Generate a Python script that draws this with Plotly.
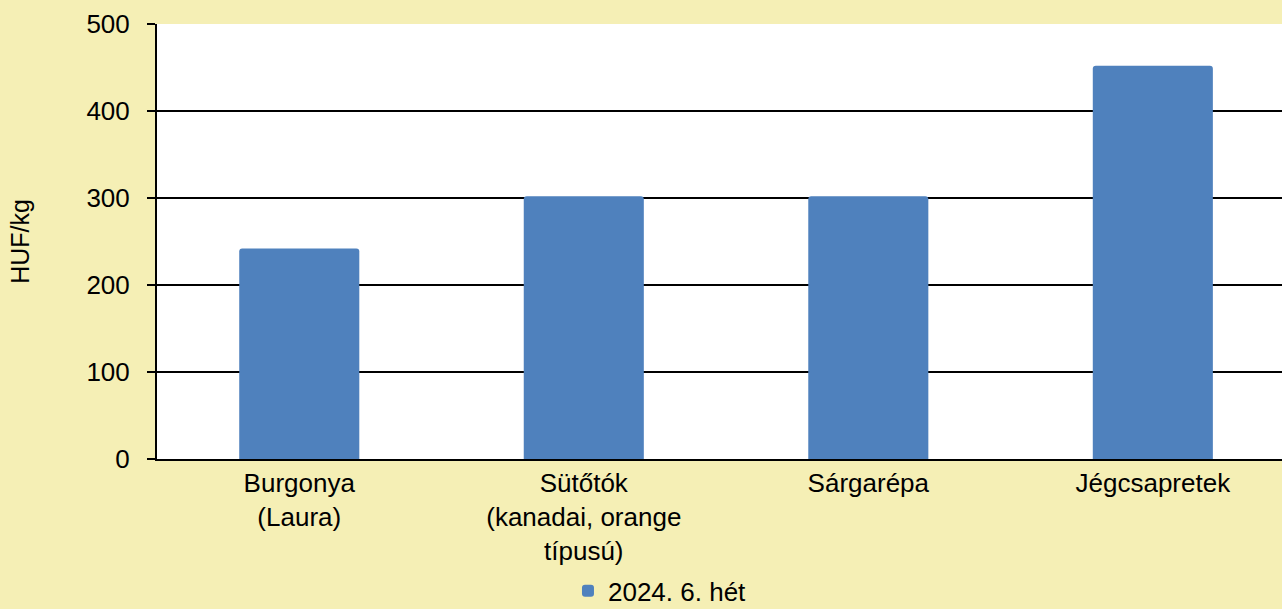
import plotly.graph_objects as go

categories = ["Burgonya<br>(Laura)", "Sütőtók<br>(kanadai, orange<br>típusú)", "Sárgarépa", "Jégcsapretek"]
values = [242, 302, 302, 452]
series_name = "2024. 6. hét"
y_ticks = [0, 100, 200, 300, 400, 500]

BG = "#F5EFB5"
BLUE = "#4F81BD"
FONT = "Liberation Sans, Arial, sans-serif"

fig = go.Figure()
fig.add_trace(go.Bar(
    x=categories, y=values, name=series_name,
    marker=dict(color=BLUE, line=dict(width=0), cornerradius=3),
    showlegend=True,
))

fig.update_layout(
    width=1282, height=609,
    paper_bgcolor=BG, plot_bgcolor="white",
    margin=dict(l=157, r=0, t=24, b=150, autoexpand=False),
    font=dict(family=FONT, size=26, color="black"),
    bargap=0.578,
    showlegend=True,
    legend=dict(
        orientation="h",
        x=0.5148, xref="container", xanchor="center",
        y=-0.303, yref="paper", yanchor="middle",
        font=dict(size=26), itemwidth=30, bgcolor="rgba(0,0,0,0)",
        borderwidth=0,
    ),
    xaxis=dict(
        range=[-0.5, 3.454],
        showline=True, linecolor="black", linewidth=2,
        ticks="", showgrid=False, tickfont=dict(size=26),
    ),
    yaxis=dict(
        range=[0, 500], tickvals=y_ticks,
        showline=True, linecolor="black", linewidth=2,
        ticks="outside", ticklen=8, tickwidth=2, tickcolor="black",
        ticklabelstandoff=12,
        showgrid=True, gridcolor="black", gridwidth=2,
        zeroline=False, tickfont=dict(size=26),
        title=dict(text="HUF/kg", font=dict(size=25), standoff=50),
    ),
)

fig.write_html(
    "out.html",
    config={"displayModeBar": False},
    post_script="document.body.style.margin='0';document.body.style.overflow='hidden';",
)
